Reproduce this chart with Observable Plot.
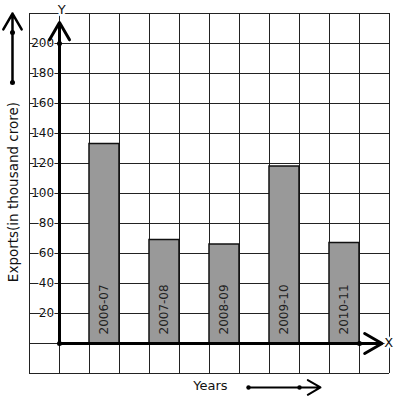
<!DOCTYPE html>
<html>
<head>
<meta charset="utf-8">
<script src="https://cdn.jsdelivr.net/npm/d3@7"></script>
<script src="https://cdn.jsdelivr.net/npm/@observablehq/plot@0.6"></script>
<style>
  html, body { margin: 0; padding: 0; background: #fff; }
  svg { display: block; }
</style>
</head>
<body>
<div id="chart"></div>
<script>
const years = ["2006-07", "2007-08", "2008-09", "2009-10", "2010-11"];
const exportsValues = [133, 69, 66, 118, 67];
const yTicks = [20, 40, 60, 80, 100, 120, 140, 160, 180, 200];
const gridX = d3.range(-1, 12);
const gridY = d3.range(-20, 221, 20);

const data = years.map((y, i) => ({year: y, value: exportsValues[i], slot: 2 * i + 1}));

const font = "DejaVu Sans, sans-serif";

const chart = Plot.plot({
  width: 397,
  height: 399,
  margin: 0,
  x: {domain: [-1, 11], range: [29, 389], axis: null},
  y: {domain: [-20, 220], range: [373, 13], axis: null},
  style: {fontFamily: font, background: "#fff"},
  marks: [
    Plot.ruleX(gridX, {x: d => d, y1: -20, y2: 220, stroke: "#222", strokeWidth: 1}),
    Plot.ruleY(gridY, {y: d => d, x1: -1, x2: 11, stroke: "#222", strokeWidth: 1}),
    Plot.rectY(data, {x1: "slot", x2: d => d.slot + 1, y1: 0, y2: "value", fill: "#999", stroke: "#111", strokeWidth: 1.5}),
    Plot.text(data, {x: d => d.slot + 0.5, y: 6, text: "year", rotate: -90, textAnchor: "start", fontSize: 12, fill: "#222"}),
    // tick labels with white knockout
    Plot.text(yTicks, {x: -0.18, y: d => d, text: d => String(d), textAnchor: "end", fontSize: 12, fill: "#111", stroke: "white", strokeWidth: 2}),
    // axes
    Plot.arrow([{x1: 0, y1: 0, x2: 0, y2: 214}], {x1: "x1", y1: "y1", x2: "x2", y2: "y2", stroke: "#000", strokeWidth: 3, headLength: 10, headAngle: 60}),
    Plot.arrow([{x1: 0, y1: 0, x2: 10.75, y2: 0}], {x1: "x1", y1: "y1", x2: "x2", y2: "y2", stroke: "#000", strokeWidth: 3, headLength: 10, headAngle: 60}),
    Plot.dot([[0, 0], [0, 200], [10, 0]], {x: d => d[0], y: d => d[1], r: 2.5, fill: "#000"}),
    Plot.text(["Y"], {x: 0.07, y: 222.3, text: d => d, fontSize: 13, fill: "#111", stroke: "white", strokeWidth: 5}),
    Plot.text(["X"], {x: 10.97, y: 0.3, text: d => d, fontSize: 13, fill: "#111", stroke: "white", strokeWidth: 4}),
    // left decoration arrow and label
    Plot.arrow([{x1: -1.567, y1: 174, x2: -1.567, y2: 220}], {x1: "x1", y1: "y1", x2: "x2", y2: "y2", stroke: "#000", strokeWidth: 2.5, headLength: 11, headAngle: 60}),
    Plot.dot([[-1.567, 174], [-1.567, 207.3]], {x: d => d[0], y: d => d[1], r: 2.5, fill: "#000"}),
    Plot.text(["Exports(in thousand crore)"], {x: -1.533, y: 101, text: d => d, rotate: -90, fontSize: 13.5, fill: "#111"}),
    // bottom label and arrow
    Plot.text(["Years"], {x: 5.03, y: -28.3, text: d => d, fontSize: 13, fill: "#111"}),
    Plot.arrow([{x1: 6.3, y1: -29.3, x2: 8.7, y2: -29.3}], {x1: "x1", y1: "y1", x2: "x2", y2: "y2", stroke: "#000", strokeWidth: 2, headLength: 11, headAngle: 60}),
    Plot.dot([[6.3, -29.3], [8.0, -29.3]], {x: d => d[0], y: d => d[1], r: 2.2, fill: "#000"})
  ]
});

document.getElementById("chart").appendChild(chart);
</script>
</body>
</html>
